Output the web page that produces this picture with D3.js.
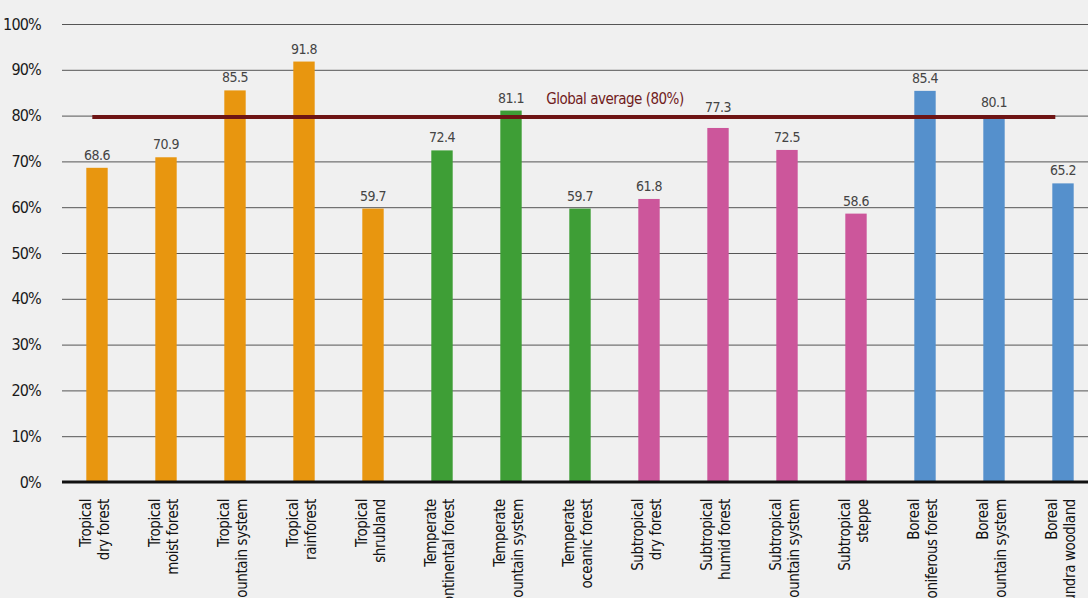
<!DOCTYPE html>
<html lang="en">
<head>
  <meta charset="UTF-8">
  <title>Forest</title>
  <style>
    body { margin: 0; background: #f0f0f0; }
    text { font-family: "DejaVu Sans Condensed", "DejaVu Sans", sans-serif; font-stretch: condensed; }
  </style>
</head>
<body>
  <div id="svg"></div>
</body>
<script src="https://cdn.jsdelivr.net/npm/d3@7/dist/d3.min.js"></script>
<script type="text/javascript">
  // categories (two lines each) and values
  const line1 = ["Tropical", "Tropical", "Tropical", "Tropical", "Tropical",
    "Temperate", "Temperate", "Temperate",
    "Subtropical", "Subtropical", "Subtropical", "Subtropical",
    "Boreal", "Boreal", "Boreal"]
  const line2 = ["dry forest", "moist forest", "mountain system", "rainforest", "shrubland",
    "continental forest", "mountain system", "oceanic forest",
    "dry forest", "humid forest", "mountain system", "steppe",
    "coniferous forest", "mountain system", "tundra woodland"]
  const values = [68.6, 70.9, 85.5, 91.8, 59.7, 72.4, 81.1, 59.7, 61.8, 77.3, 72.5, 58.6, 85.4, 80.1, 65.2]
  const groups = ["Tropical", "Tropical", "Tropical", "Tropical", "Tropical",
    "Temperate", "Temperate", "Temperate",
    "Subtropical", "Subtropical", "Subtropical", "Subtropical",
    "Boreal", "Boreal", "Boreal"]
  const yTicks = [0, 10, 20, 30, 40, 50, 60, 70, 80, 90, 100]
  const globalAvg = 80

  const width = 1088
  const height = 598
  const svg = d3.select("#svg").append("svg").attr("width", width).attr("height", height)
    .style("display", "block")

  const color = d3.scaleOrdinal()
    .domain(["Tropical", "Temperate", "Subtropical", "Boreal"])
    .range(["#e8960f", "#3e9e36", "#cc569b", "#5590cc"])

  const x = d3.scaleBand().domain(d3.range(values.length)).range([62.5, 1097.5]).paddingInner(0.69).paddingOuter(0.345)
  const y = d3.scaleLinear().domain([0, 100]).range([482, 24])

  // gridlines + y labels
  const yAxis = svg.append("g").attr("transform", "translate(62,0)")
    .call(d3.axisLeft(y).tickValues(yTicks).tickSize(-(width - 62)).tickFormat(d => d + "%"))
  yAxis.select(".domain").remove()
  yAxis.selectAll(".tick line").attr("stroke", "#555").attr("stroke-width", 1)
  yAxis.selectAll(".tick text").attr("x", -21).attr("font-size", 16).attr("fill", "#1a1a1a")
    .attr("letter-spacing", -0.8)

  // bars
  svg.selectAll("rect.bar").data(values).enter().append("rect")
    .attr("class", "bar")
    .attr("x", (d, i) => x(i))
    .attr("y", d => y(d))
    .attr("width", x.bandwidth())
    .attr("height", d => y(0) - y(d))
    .attr("fill", (d, i) => color(groups[i]))

  // value labels (pushed above the average line when they would sit on it)
  const labelY = d => (d < globalAvg && d > globalAvg - 6) ? y(globalAvg) - 4 : y(d) - 8
  svg.selectAll("text.val").data(values).enter().append("text")
    .attr("class", "val")
    .attr("x", (d, i) => x(i) + x.bandwidth() / 2)
    .attr("y", labelY)
    .attr("text-anchor", "middle")
    .attr("font-size", 14)
    .attr("letter-spacing", -0.5)
    .attr("fill", "#444")
    .text(d => d.toFixed(1))

  // baseline
  svg.append("line").attr("x1", 62).attr("x2", width).attr("y1", y(0)).attr("y2", y(0))
    .attr("stroke", "#111").attr("stroke-width", 3)

  // global average
  svg.append("line")
    .attr("x1", x(0) + 6).attr("x2", x(values.length - 1) + 3)
    .attr("y1", y(globalAvg) + 1.5).attr("y2", y(globalAvg) + 1.5)
    .attr("stroke", "#6e1414").attr("stroke-width", 4)
  svg.append("text")
    .attr("x", 615).attr("y", y(globalAvg) - 12)
    .attr("text-anchor", "middle")
    .attr("font-size", 15)
    .attr("letter-spacing", -0.5)
    .attr("fill", "#701c1c")
    .text("Global average (" + globalAvg + "%)")

  // category labels, rotated
  const cat = svg.selectAll("g.cat").data(values).enter().append("g")
    .attr("class", "cat")
    .attr("transform", (d, i) => `translate(${x(i) + x.bandwidth() / 2 - 6},${y(0) + 17}) rotate(-90)`)
  cat.append("text")
    .attr("text-anchor", "end")
    .attr("font-size", 15)
    .attr("letter-spacing", -0.4)
    .attr("fill", "#111")
    .selectAll("tspan").data((d, i) => [line1[i], line2[i]]).enter().append("tspan")
    .attr("x", 0)
    .attr("dy", (d, j) => j === 0 ? 0 : 18)
    .text(d => d)
</script>
</html>
